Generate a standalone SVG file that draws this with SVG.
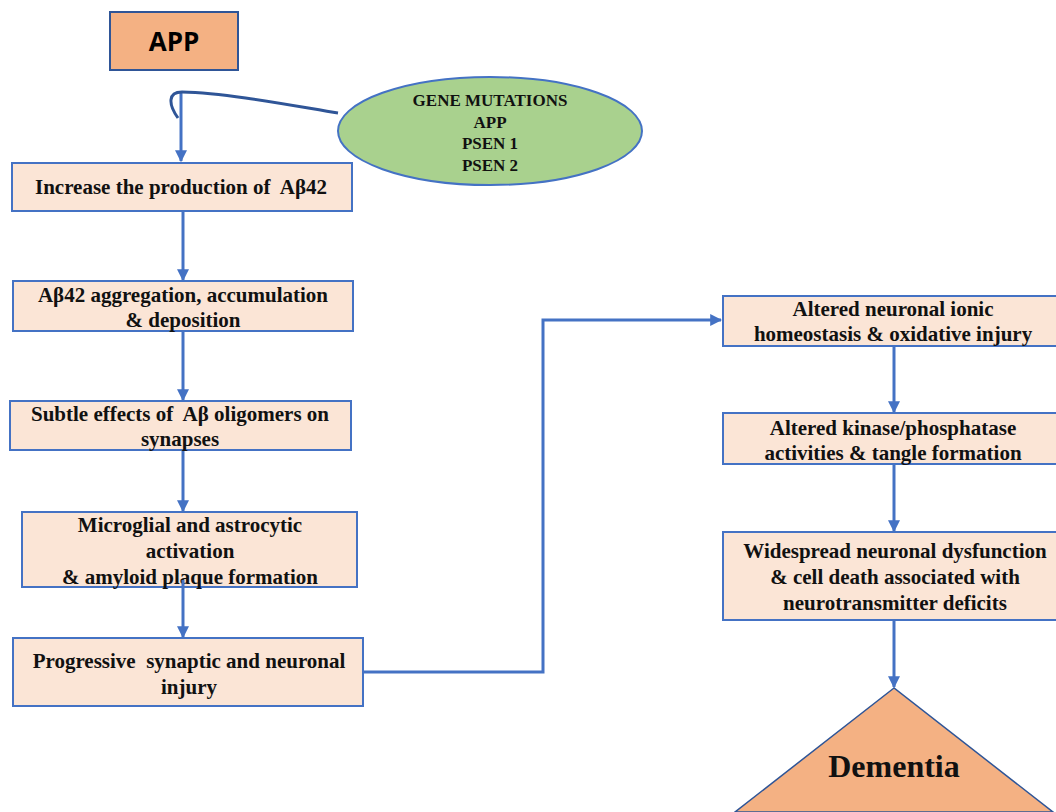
<svg xmlns="http://www.w3.org/2000/svg" width="1056" height="812" viewBox="0 0 1056 812">
<defs>
<marker id="ah" viewBox="0 0 10 10" refX="9" refY="5" markerWidth="4" markerHeight="4" orient="auto" markerUnits="strokeWidth">
<path d="M0,0 L10,5 L0,10 z" fill="#4472C4"/>
</marker>
<style>
.box{fill:#FBE5D6;stroke:#4472C4;stroke-width:2}
.t{font-family:"Liberation Serif","Times New Roman",serif;font-weight:bold;font-size:21px;fill:#111;text-anchor:middle;white-space:pre}
.g{font-size:17px}
.c{fill:none;stroke:#4472C4;stroke-width:3}
</style>
</defs>
<rect width="1056" height="812" fill="#fff"/>
<g id="app">
<rect x="110" y="12" width="128" height="58" fill="#F4B183" stroke="#2F5597" stroke-width="2"/>
<text x="174" y="51" font-family="Open Sans, Liberation Sans, sans-serif" font-weight="bold" font-size="26" text-anchor="middle" fill="#000">APP</text>
</g>
<g id="gene">
<ellipse cx="490" cy="131" rx="152" ry="54" fill="#A9D18E" stroke="#4472C4" stroke-width="2"/>
<text class="t g" x="490" y="106">GENE MUTATIONS</text>
<text class="t g" x="490" y="128">APP</text>
<text class="t g" x="490" y="149">PSEN 1</text>
<text class="t g" x="490" y="171">PSEN 2</text>
</g>
<g id="n1">
<rect class="box" x="12" y="163" width="340" height="48"/>
<text class="t" x="181" y="194" xml:space="preserve">Increase the production of  Aβ42</text>
</g>
<g id="n2">
<rect class="box" x="13" y="281" width="340" height="50"/>
<text class="t" x="183" y="302">Aβ42 aggregation, accumulation</text>
<text class="t" x="183" y="327">&amp; deposition</text>
</g>
<g id="n3">
<rect class="box" x="10" y="401" width="341" height="49"/>
<text class="t" x="180" y="421" xml:space="preserve">Subtle effects of  Aβ oligomers on</text>
<text class="t" x="180" y="446">synapses</text>
</g>
<g id="n4">
<rect class="box" x="22" y="512" width="335" height="75"/>
<text class="t" x="190" y="532">Microglial and astrocytic</text>
<text class="t" x="190" y="558">activation</text>
<text class="t" x="190" y="584">&amp; amyloid plaque formation</text>
</g>
<g id="n5">
<rect class="box" x="13" y="638" width="350" height="68"/>
<text class="t" x="189" y="668" xml:space="preserve">Progressive  synaptic and neuronal</text>
<text class="t" x="189" y="694">injury</text>
</g>
<g id="r1">
<rect class="box" x="723" y="296" width="345" height="50"/>
<text class="t" x="893" y="316">Altered neuronal ionic</text>
<text class="t" x="893" y="341">homeostasis &amp; oxidative injury</text>
</g>
<g id="r2">
<rect class="box" x="723" y="413" width="345" height="51"/>
<text class="t" x="893" y="435">Altered kinase/phosphatase</text>
<text class="t" x="893" y="460">activities &amp; tangle formation</text>
</g>
<g id="r3">
<rect class="box" x="723" y="532" width="345" height="88"/>
<text class="t" x="895" y="558">Widespread neuronal dysfunction</text>
<text class="t" x="895" y="584">&amp; cell death associated with</text>
<text class="t" x="895" y="610">neurotransmitter deficits</text>
</g>
<g id="dementia">
<path d="M894,688 L735,812 L1053,812 Z" fill="#F4B183" stroke="#2F5597" stroke-width="1.5"/>
<text class="t" style="font-size:32px" x="894" y="777">Dementia</text>
</g>
<g id="connectors">
<path class="c" d="M181,92 V161" marker-end="url(#ah)"/>
<path d="M338,113 C300,107 230,93 182,92 C168,92 168,104 178,118" fill="none" stroke="#2F5597" stroke-width="3"/>
<path class="c" d="M183,212 V280" marker-end="url(#ah)"/>
<path class="c" d="M183,332 V400" marker-end="url(#ah)"/>
<path class="c" d="M183,451 V511" marker-end="url(#ah)"/>
<path class="c" d="M183,580 V637" marker-end="url(#ah)"/>
<path class="c" d="M364,672 H543 V320 H721" marker-end="url(#ah)"/>
<path class="c" d="M894,347 V412" marker-end="url(#ah)"/>
<path class="c" d="M894,465 V531" marker-end="url(#ah)"/>
<path class="c" d="M894,621 V687" marker-end="url(#ah)"/>
</g>
</svg>
